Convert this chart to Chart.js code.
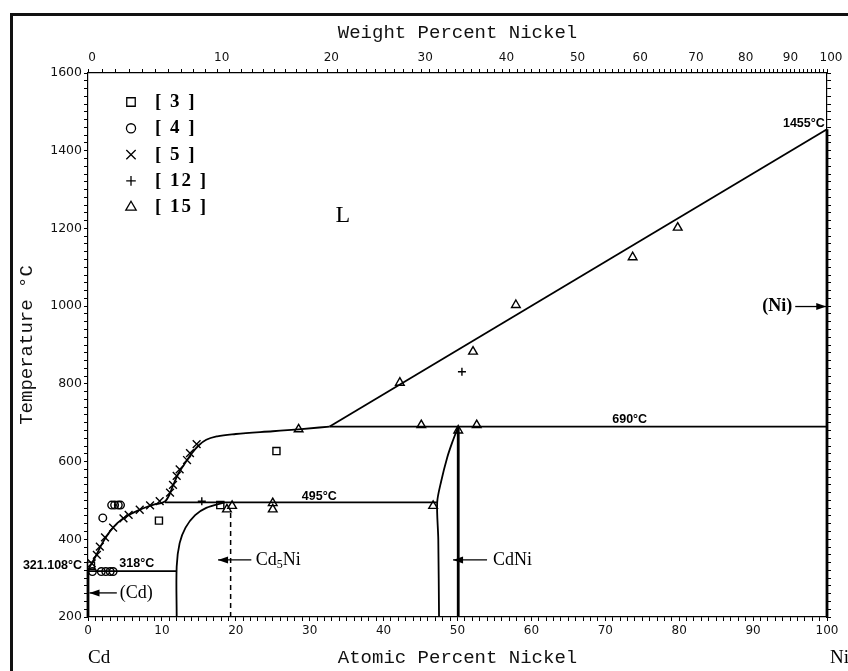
<!DOCTYPE html>
<html>
<head>
<meta charset="utf-8">
<script src="https://cdn.jsdelivr.net/npm/chart.js@4.4.1/dist/chart.umd.min.js"></script>
<style>
  html, body { margin:0; padding:0; background:#fff; }
  canvas { display:block; }
</style>
</head>
<body>
<canvas id="cdni" width="848" height="671"></canvas>
<script>
// Cd-Ni phase diagram: x = at.% Ni, y = temperature in °C
const CD = 112.41, NI = 58.69;

// phase boundaries [at.% Ni, °C]
const liquidusLow = [[0,321],[1,355],[2,392],[3,421],[4,442],[5,457],[7,476],[9,490],[10.4,497],[11,514],[11.5,538],[12.2,568],[13,592],[14,620],[15,642],[16,656],[17.5,665],[20,671],[25,678],[28.5,683],[32.7,690]];
const liquidusHigh = [[32.7,690],[100,1455]];
const line690 = [[32.7,690],[100,690]];
const line495 = [[10.4,495],[47.2,495]];
const line318 = [[0,318],[12,318]];
const cd5niSolvus = [[12,200],[12,330],[12.4,390],[13.2,430],[14.5,462],[16,481],[18.5,495]];
const cd5niLine = [[19.3,200],[19.3,478]];
const cdniLeft = [[47.5,200],[47.4,400],[47.25,495],[47.8,550],[48.6,610],[49.3,650],[50.1,690]];
const cdniRight = [[50.1,200],[50.1,690]];
const cdSide = [[0,200],[0,321]];
const niSide = [[100,200],[100,1455]];

// measured points by reference
const ref3 = [[0.4,332],[9.6,448],[17.9,488],[25.5,627]];
const ref4 = [[2.0,455],[3.2,488],[3.6,488],[4.1,488],[4.4,488],[0.6,317],[1.8,317],[2.4,317],[3.0,317],[3.4,317]];
const ref5 = [[0.5,338],[1.2,360],[1.6,381],[2.3,405],[3.4,430],[4.8,454],[5.5,463],[7.0,476],[8.4,487],[9.7,498],[11.1,520],[11.5,540],[12.0,563],[12.4,580],[13.4,604],[13.8,622],[14.7,645]];
const ref12 = [[15.4,498],[50.6,831]];
const ref15 = [[18.8,477],[19.5,486],[25.0,493],[25.0,477],[28.5,683],[42.2,803],[45.1,694],[46.7,486],[50.1,680],[52.1,883],[52.6,694],[57.9,1003],[73.7,1126],[79.8,1202]];

// axis ticks
const atLabels = [0,10,20,30,40,50,60,70,80,90,100];
const atMinor = Array.from({length:101}, (_, i) => i);
const tempLabels = [200,400,600,800,1000,1200,1400,1600];
const tempMinor = Array.from({length:71}, (_, i) => 200 + i * 20);
const wtLabels = [0,10,20,30,40,50,60,70,80,90,100];
const wtMinor = Array.from({length:101}, (_, i) => i);

const wtToAt = w => { const a = w / NI, b = (100 - w) / CD; return 100 * a / (a + b); };
const pts = a => a.map(([x, y]) => ({x, y}));

const lineDs = (data, opts) => Object.assign({
  data: pts(data), showLine: true, pointRadius: 0, borderColor: '#000',
  borderWidth: 1.8, fill: false, order: 1, clip: false
}, opts);
const markDs = (label, data, style, r) => ({
  label, data: pts(data), showLine: false, pointStyle: style, pointRadius: r,
  pointBorderColor: '#000', pointBackgroundColor: 'rgba(255,255,255,0)',
  pointBorderWidth: 1.4, order: 0, clip: false, marker: true
});

const notes = [
  {text:'1455°C', x:99.7, t:1470, align:'right', font:'bold 12.5px "Liberation Sans"'},
  {text:'690°C', x:73.3, t:707, align:'center', font:'bold 12.5px "Liberation Sans"'},
  {text:'495°C', x:31.3, t:510, align:'center', font:'bold 12.5px "Liberation Sans"'},
  {text:'318°C', x:6.6, t:337, align:'center', font:'bold 12.5px "Liberation Sans"'},
  {text:'321.108°C', x:-0.8, t:333, align:'right', font:'bold 12.5px "Liberation Sans"'},
  {text:'L', x:34.5, t:1232, align:'center', font:'24px "Liberation Serif"'},
  {text:'(Cd)', x:4.3, t:261, align:'left', font:'18px "Liberation Serif"'},
  {text:'CdNi', x:54.8, t:347, align:'left', font:'18px "Liberation Serif"'},
  {text:'(Ni)', x:95.3, t:999, align:'right', font:'bold 18px "Liberation Serif"'}
];
const arrows = [
  {from:[3.9,262], to:[0.2,262]},
  {from:[22.1,347], to:[17.6,347]},
  {from:[54,347], to:[49.4,347]},
  {from:[95.7,999], to:[99.9,999]}
];

const annot = {
  id: 'annot',
  afterDatasetsDraw(chart) {
    const {ctx, scales: {x, y}} = chart;
    ctx.save();
    ctx.fillStyle = '#000';
    ctx.strokeStyle = '#000';
    ctx.textBaseline = 'middle';
    notes.forEach(n => {
      ctx.font = n.font;
      ctx.textAlign = n.align;
      ctx.fillText(n.text, x.getPixelForValue(n.x), y.getPixelForValue(n.t));
    });
    // Cd5Ni with subscript
    let px = x.getPixelForValue(22.7), py = y.getPixelForValue(347);
    ctx.textAlign = 'left';
    ctx.font = '18px "Liberation Serif"';
    ctx.fillText('Cd', px, py);
    px += ctx.measureText('Cd').width;
    ctx.font = '12px "Liberation Serif"';
    ctx.fillText('5', px, py + 5);
    px += ctx.measureText('5').width;
    ctx.font = '18px "Liberation Serif"';
    ctx.fillText('Ni', px, py);
    // arrows
    ctx.lineWidth = 1.3;
    arrows.forEach(a => {
      const x0 = x.getPixelForValue(a.from[0]), y0 = y.getPixelForValue(a.from[1]);
      const x1 = x.getPixelForValue(a.to[0]), y1 = y.getPixelForValue(a.to[1]);
      const dir = Math.sign(x1 - x0);
      ctx.beginPath(); ctx.moveTo(x0, y0); ctx.lineTo(x1, y1); ctx.stroke();
      ctx.beginPath();
      ctx.moveTo(x1, y1);
      ctx.lineTo(x1 - dir * 10, y1 - 3.5);
      ctx.lineTo(x1 - dir * 10, y1 + 3.5);
      ctx.closePath(); ctx.fill();
    });
    // legend
    const marks = chart.data.datasets.filter(d => d.marker);
    marks.forEach((d, i) => {
      const ly = 102 + i * 26.3;
      ctx.lineWidth = 1.3;
      ctx.fillStyle = 'rgba(255,255,255,0)';
      Chart.helpers.drawPoint(ctx, {pointStyle: d.pointStyle, radius: d.pointRadius * 1.2, rotation: 0, borderWidth: 1.3}, 131, ly);
      ctx.fillStyle = '#000';
      ctx.font = 'bold 19px "Liberation Serif"';
      ctx.textAlign = 'left';
      ctx.letterSpacing = '2px';
      ctx.fillText(d.label, 155, ly);
      ctx.letterSpacing = '0px';
    });
    // end labels under the axis
    ctx.font = '19px "Liberation Serif"';
    ctx.textAlign = 'left';
    ctx.fillText('Cd', 88, 658);
    ctx.fillText('Ni', 830, 658);
    ctx.restore();
  },
  afterDraw(chart) {
    const {ctx} = chart;
    ctx.save();
    ctx.lineWidth = 3;
    ctx.strokeStyle = '#111';
    ctx.strokeRect(11.5, 14.5, 900, 900);
    ctx.restore();
  }
};

const tickFont = {family: '"DejaVu Sans"', size: 12};
const titleFont = {family: '"Liberation Mono"', size: 19};
const gridOpts = {drawOnChartArea: false, tickLength: 4, color: '#000', tickColor: '#000', tickWidth: 1};
const borderOpts = {display: true, color: '#000', width: 1.2};

new Chart(document.getElementById('cdni'), {
  type: 'scatter',
  data: {
    datasets: [
      markDs('[ 3 ]', ref3, 'rect', 5),
      markDs('[ 4 ]', ref4, 'circle', 3.8),
      markDs('[ 5 ]', ref5, 'crossRot', 5.5),
      markDs('[ 12 ]', ref12, 'cross', 4),
      markDs('[ 15 ]', ref15, 'triangle', 5),
      lineDs(liquidusLow, {cubicInterpolationMode: 'monotone'}),
      lineDs(liquidusHigh),
      lineDs(line690),
      lineDs(line495),
      lineDs(line318),
      lineDs(cd5niSolvus, {tension: 0.35}),
      lineDs(cd5niLine, {borderDash: [5, 4], borderWidth: 1.5}),
      lineDs(cdniLeft, {tension: 0.3}),
      lineDs(cdniRight, {borderWidth: 2.8}),
      lineDs(cdSide, {borderWidth: 2.8}),
      lineDs(niSide, {borderWidth: 2.8})
    ]
  },
  options: {
    responsive: false,
    animation: false,
    devicePixelRatio: 1,
    layout: {padding: 0},
    plugins: {legend: {display: false}, tooltip: {enabled: false}},
    scales: {
      x: {
        type: 'linear', position: 'bottom', min: 0, max: 100,
        afterBuildTicks: s => { s.ticks = atMinor.map(v => ({value: v})); },
        ticks: {autoSkip: false, maxRotation: 0, padding: 3, font: tickFont, color: '#111',
                callback: v => atLabels.includes(v) ? String(v) : ''},
        grid: gridOpts, border: borderOpts,
        title: {display: true, text: 'Atomic Percent Nickel', font: titleFont, color: '#111', padding: {top: 0, bottom: 2}},
        afterFit: s => { s.height = 54; }
      },
      x2: {
        type: 'linear', position: 'top', min: 0, max: 100,
        afterBuildTicks: s => { s.ticks = wtMinor.map(w => ({value: wtToAt(w), wt: w})); },
        ticks: {autoSkip: false, maxRotation: 0, padding: 4, labelOffset: 4, font: tickFont, color: '#111',
                callback: (v, i, t) => wtLabels.includes(t[i].wt) ? String(t[i].wt) : ''},
        grid: gridOpts, border: borderOpts,
        title: {display: true, text: 'Weight Percent Nickel', font: titleFont, color: '#111', padding: {top: 22, bottom: 0}},
        afterFit: s => { s.height = 73; }
      },
      y: {
        type: 'linear', position: 'left', min: 200, max: 1600,
        afterBuildTicks: s => { s.ticks = tempMinor.map(v => ({value: v})); },
        ticks: {autoSkip: false, padding: 2, font: {family: '"DejaVu Sans"', size: 12.5}, color: '#111',
                callback: v => tempLabels.includes(v) ? String(v) : ''},
        grid: gridOpts, border: borderOpts,
        title: {display: true, text: 'Temperature °C', font: titleFont, color: '#111', padding: {top: 16, bottom: 0}},
        afterFit: s => { s.width = 88; }
      },
      yR: {
        type: 'linear', position: 'right', min: 200, max: 1600,
        afterBuildTicks: s => { s.ticks = tempMinor.map(v => ({value: v})); },
        ticks: {autoSkip: false, padding: 0, font: tickFont, callback: () => ''},
        grid: gridOpts, border: borderOpts,
        afterFit: s => { s.width = 21; }
      }
    }
  },
  plugins: [annot]
});
</script>
</body>
</html>
